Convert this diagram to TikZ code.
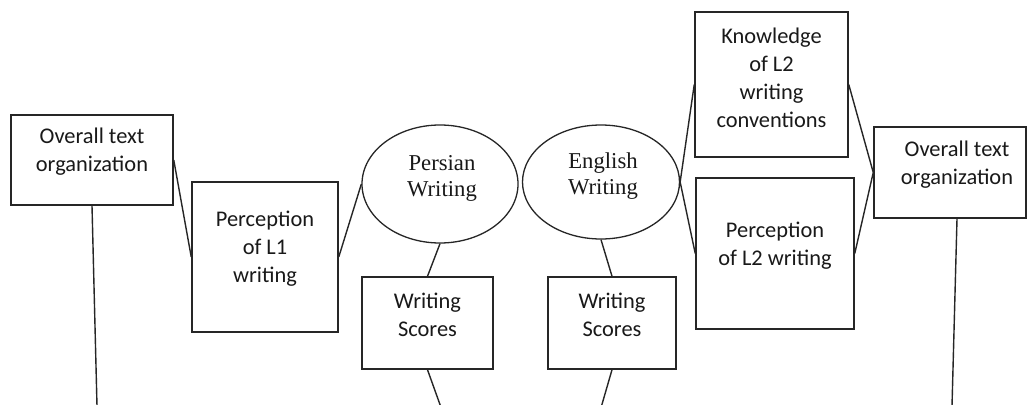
\documentclass[tikz,border=0pt]{standalone}
\usepackage{fontspec}
\usetikzlibrary{shapes.geometric}
\newfontfamily\boxfont{Carlito}
\newfontfamily\ovalfont{Liberation Serif}

\begin{document}
\begin{tikzpicture}[x=1pt,y=-1pt,
		box/.style={draw=black!85,line width=1.5pt,inner sep=0pt},
		oval/.style={draw=black!85,line width=1.3pt,ellipse,inner sep=0pt},
		btxt/.style={font=\boxfont\fontsize{22.4}{28}\selectfont,align=center,text=black!90,yshift=8pt},
		otxt/.style={font=\ovalfont\fontsize{22.7}{26}\selectfont,align=center,text=black!90,yshift=6pt,xshift=2pt},
		link/.style={draw=black!85,line width=1.4pt}]
		\clip (0,0) rectangle (1027,404);
		\fill[white] (0,0) rectangle (1027,404);
		
		\node[box,minimum width=162pt,minimum height=90pt,label={[btxt]center:Overall text\\organization}] (ovl) at (92,160) {};
		\node[box,minimum width=146pt,minimum height=150pt,label={[btxt]center:Perception\\of L1\\writing}] (pl1) at (265,257) {};
		\node[oval,minimum width=156pt,minimum height=118pt,label={[otxt]center:Persian\\Writing}] (pw) at (440,184) {};
		\node[oval,minimum width=157pt,minimum height=114pt,label={[otxt]center:English\\Writing}] (ew) at (601,182) {};
		\node[box,minimum width=131pt,minimum height=92pt,label={[btxt]center:Writing\\Scores}] (ws1) at (427.5,323) {};
		\node[box,minimum width=128pt,minimum height=92pt,label={[btxt]center:Writing\\Scores}] (ws2) at (612,323) {};
		\node[box,minimum width=153pt,minimum height=145pt,label={[btxt,yshift=-1pt]center:Knowledge\\of L2\\writing\\conventions}] (kn) at (771.5,84.5) {};
		\node[box,minimum width=158pt,minimum height=151pt,label={[btxt]center:Perception\\of L2 writing}] (pl2) at (775,253.5) {};
		\node[box,minimum width=152pt,minimum height=91pt,label={[btxt,xshift=7pt]center:Overall text\\organization}] (ovr) at (950,172.5) {};
		
		\coordinate (e1) at (97,406);
		\coordinate (e2) at (440.5,406);
		\coordinate (e3) at (601.5,406);
		\coordinate (e4) at (952,406);
		
		\draw[link] (ovl.east) -- (pl1.west);
		\draw[link] (pl1.east) -- (pw.west);
		\draw[link] (pw.south) -- (ws1.north);
		\draw[link] (ew.south) -- (ws2.north);
		\draw[link] (ew.east) -- (kn.west);
		\draw[link] (ew.east) -- (pl2.west);
		\draw[link] (kn.east) -- (ovr.west);
		\draw[link] (pl2.east) -- (ovr.west);
		\draw[link] (ovl.south) -- (e1);
		\draw[link] (ws1.south) -- (e2);
		\draw[link] (ws2.south) -- (e3);
		\draw[link] ([xshift=7pt]ovr.south) -- (e4);
	\end{tikzpicture}
\end{document}
